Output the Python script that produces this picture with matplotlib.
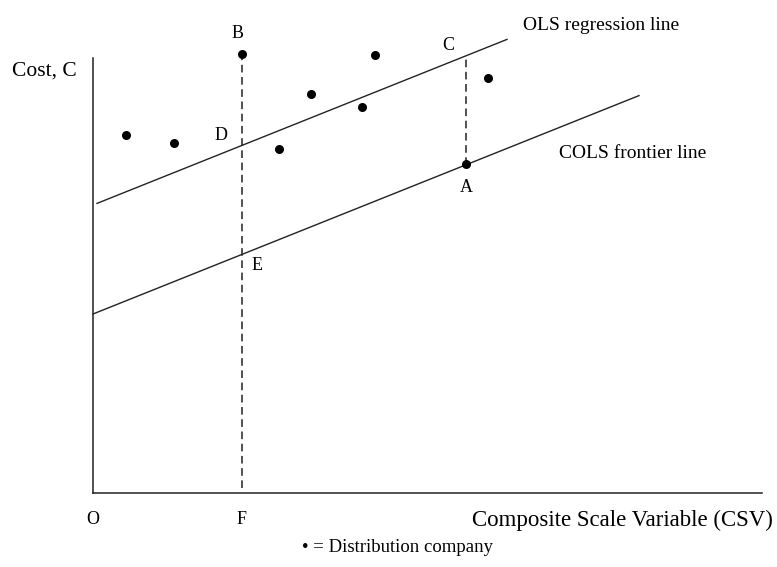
import numpy as np
import matplotlib.pyplot as plt

plt.rcParams['font.family'] = ['Liberation Serif', 'DejaVu Serif']

# distribution companies (CSV, cost) - schematic units
company_x = [33, 81, 149, 186, 218, 269, 282, 395, 373]
company_y = [358, 350, 439, 344, 399, 386, 438, 415, 329]

# regression lines: cost = a + b * CSV
slope = 0.40
ols_intercept = 288
cols_intercept = 179
ols_x = np.array([4, 414])
cols_x = np.array([0, 546])

# reference points
F_x = 149
A_x = 373

fig = plt.figure(figsize=(7.77, 5.67), dpi=100)
ax = fig.add_axes([0, 0, 1, 1])
ax.set_xlim(-93, 684)
ax.set_ylim(-74, 493)
ax.axis('off')

# axes of the diagram
ax.plot([0, 0], [0, 435], color='#222222', lw=1.1)
ax.plot([0, 669], [0, 0], color='#222222', lw=1.1)

# OLS and COLS lines
ax.plot(ols_x, ols_intercept + slope * ols_x, color='#222222', lw=1.0)
ax.plot(cols_x, cols_intercept + slope * cols_x, color='#222222', lw=1.0)

# dashed verticals
ax.plot([F_x, F_x], [5, 439], color='#222222', lw=1.1, dashes=(5, 3))
ax.plot([A_x, A_x], [cols_intercept + slope * A_x, ols_intercept + slope * A_x],
        color='#222222', lw=1.1, dashes=(5, 3))

# companies
ax.plot(company_x, company_y, 'o', color='black', markersize=6.5, markeredgewidth=0)

ax.text(-81, 422, 'Cost, C', fontsize=15.5, ha='left', va='center')
ax.text(430, 468, 'OLS regression line', fontsize=14, ha='left', va='center')
ax.text(466, 340, 'COLS frontier line', fontsize=14, ha='left', va='center')
ax.text(145, 459, 'B', fontsize=13, ha='center', va='center')
ax.text(355, 448, 'C', fontsize=13, ha='center', va='center')
ax.text(128, 358, 'D', fontsize=13, ha='center', va='center')
ax.text(164, 227, 'E', fontsize=13, ha='center', va='center')
ax.text(373, 305, 'A', fontsize=13, ha='center', va='center')
ax.text(0, -26, 'O', fontsize=13, ha='center', va='center')
ax.text(149, -26, 'F', fontsize=13, ha='center', va='center')
ax.text(680, -27, 'Composite Scale Variable (CSV)', fontsize=16.5, ha='right', va='center')
ax.text(209, -55, '\u2022 = Distribution company', fontsize=13.5, ha='left', va='center')

plt.savefig('out.png', dpi=100)
